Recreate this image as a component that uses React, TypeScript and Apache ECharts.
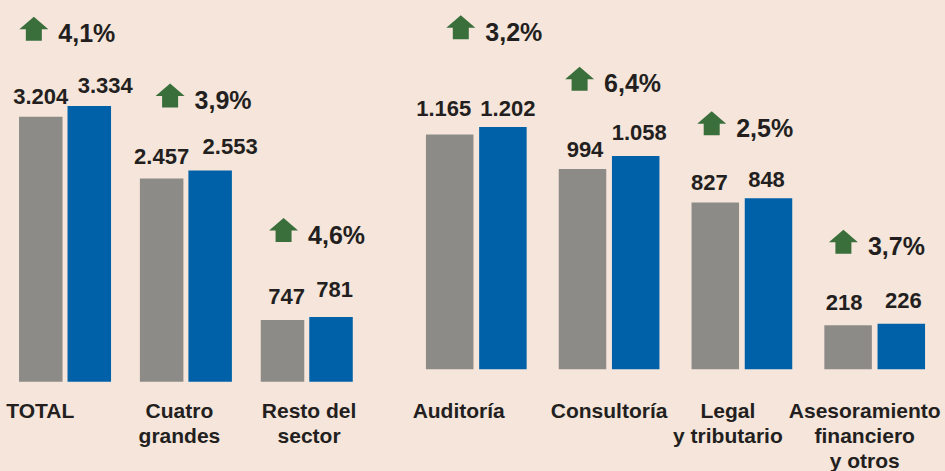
import React, { useEffect, useRef } from "react";
import * as echarts from "echarts";

// ---------- data ----------
const leftCategories = ["TOTAL", "Cuatro\ngrandes", "Resto del\nsector"];
const leftPrevious = [3204, 2457, 747];
const leftCurrent = [3334, 2553, 781];
const leftChange = [4.1, 3.9, 4.6];

const rightCategories = ["Auditoría", "Consultoría", "Legal\ny tributario", "Asesoramiento\nfinanciero\ny otros"];
const rightPrevious = [1165, 994, 827, 218];
const rightCurrent = [1202, 1058, 848, 226];
const rightChange = [3.2, 6.4, 2.5, 3.7];

// ---------- layout (pixel tweaks, not data) ----------
const LEFT_CAT_SHIFT = [-24.7, -6.5, 2.3];
const RIGHT_CAT_SHIFT = [-17.6, 0, -14, -10];
const LEFT_PREV_LABEL_OFF = [[0, 1.3], [0, -0.7], [4, -2]];
const LEFT_CURR_LABEL_OFF = [[16, 1], [20, -2.7], [3.5, -6]];
const RIGHT_PREV_LABEL_OFF = [[-6, -4.7], [2.5, 2], [-6, 1.7], [-4, -1]];
const RIGHT_CURR_LABEL_OFF = [[5, 2.7], [3.6, -2], [-2, 2.3], [2, -1.3]];
// arrow left offset from category centre, arrow bottom offset above current bar top
const LEFT_ARROW_OFF = [[-45.7, 65.3], [-30.3, 63], [-37.7, 75]];
const RIGHT_ARROW_OFF = [[-30, 87.7], [-44, 65.3], [-44.7, 63], [-45.8, 70]];

const BG = "#f5e5da";
const GREY = "#8c8b88";
const BLUE = "#0061a8";
const GREEN = "#3a6f3c";
const INK = "#231f20";
const FONT = "'Liberation Sans', Arial, sans-serif";

const fmtThousands = (v: number) => String(v).replace(/\B(?=(\d{3})+(?!\d))/g, ".");
const fmtPct = (v: number) => v.toFixed(1).replace(".", ",") + "%";

function catAxis(cats: string[], shifts: number[], gridIndex: number, margin: number) {
  const rich: Record<string, any> = {};
  shifts.forEach((s, i) => {
    rich["r" + i] = {
      fontFamily: FONT,
      fontWeight: "bold",
      fontSize: 21,
      lineHeight: 25,
      color: INK,
      padding: s < 0 ? [0, -2 * s, 0, 0] : [0, 0, 0, 2 * s],
    };
  });
  return {
    type: "category",
    gridIndex,
    data: cats,
    axisLine: { show: false },
    axisTick: { show: false },
    splitLine: { show: false },
    axisLabel: {
      interval: 0,
      margin,
      formatter: (value: string, idx: number) =>
        value
          .split("\n")
          .map((l) => `{r${idx}|${l}}`)
          .join("\n"),
      rich,
    },
  };
}

function barSeries(
  values: number[],
  offsets: number[][],
  color: string,
  axisIndex: number,
  width: number,
  gap: string,
  name: string
) {
  return {
    type: "bar",
    name,
    xAxisIndex: axisIndex,
    yAxisIndex: axisIndex,
    barWidth: width,
    barGap: gap,
    itemStyle: { color },
    label: {
      show: true,
      position: "top",
      distance: 10.5,
      fontFamily: FONT,
      fontWeight: "bold",
      fontSize: 22,
      color: INK,
      formatter: (p: any) => fmtThousands(p.value),
    },
    data: values.map((v, i) => ({ value: v, label: { offset: offsets[i] } })),
  };
}

function arrowSeries(current: number[], change: number[], offs: number[][], axisIndex: number) {
  return {
    type: "custom",
    xAxisIndex: axisIndex,
    yAxisIndex: axisIndex,
    silent: true,
    clip: false,
    encode: { x: 0, y: 1 },
    data: current.map((v, i) => [i, v, change[i]]),
    renderItem: (params: any, api: any) => {
      const i = api.value(0);
      const pt = api.coord([i, api.value(1)]);
      const off = offs[i];
      const x0 = pt[0] + off[0];
      const yb = pt[1] - off[1];
      const pts = [
        [x0, yb - 11.5],
        [x0 + 14.5, yb - 24],
        [x0 + 29, yb - 11.5],
        [x0 + 22.5, yb - 11.5],
        [x0 + 22.5, yb],
        [x0 + 6.5, yb],
        [x0 + 6.5, yb - 11.5],
      ];
      return {
        type: "group",
        children: [
          { type: "polygon", shape: { points: pts }, style: { fill: GREEN } },
          {
            type: "text",
            x: x0 + 39,
            y: yb + 1 - 8.6,
            style: {
              text: fmtPct(change[i]),
              fill: INK,
              font: `bold 25px ${FONT}`,
              textAlign: "left",
              textVerticalAlign: "middle",
              align: "left",
              verticalAlign: "middle",
            },
          },
        ],
      };
    },
  };
}

export default function App() {
  const ref = useRef<HTMLDivElement>(null);
  useEffect(() => {
    if (!ref.current) return;
    const chart = echarts.init(ref.current, null, { renderer: "svg" });
    chart.setOption({
      animation: false,
      backgroundColor: BG,
      textStyle: { fontFamily: FONT },
      grid: [
        { left: 4.6, width: 362.6, top: 50.9, bottom: 89.3, containLabel: false, outerBoundsMode: "none" },
        { left: 409.9, width: 531.2, top: 66.9, bottom: 101.7, containLabel: false, outerBoundsMode: "none" },
      ],
      xAxis: [
        catAxis(leftCategories, LEFT_CAT_SHIFT, 0, 16.4),
        catAxis(rightCategories, RIGHT_CAT_SHIFT, 1, 28.8),
      ],
      yAxis: [
        { type: "value", gridIndex: 0, min: 0, max: 4000, show: false, splitLine: { show: false } },
        { type: "value", gridIndex: 1, min: 0, max: 1500, show: false, splitLine: { show: false } },
      ],
      series: [
        barSeries(leftPrevious, LEFT_PREV_LABEL_OFF, GREY, 0, 43.5, "11.5%", "Anterior"),
        barSeries(leftCurrent, LEFT_CURR_LABEL_OFF, BLUE, 0, 43.5, "11.5%", "Actual"),
        barSeries(rightPrevious, RIGHT_PREV_LABEL_OFF, GREY, 1, 47.5, "12%", "Anterior"),
        barSeries(rightCurrent, RIGHT_CURR_LABEL_OFF, BLUE, 1, 47.5, "12%", "Actual"),
        arrowSeries(leftCurrent, leftChange, LEFT_ARROW_OFF, 0),
        arrowSeries(rightCurrent, rightChange, RIGHT_ARROW_OFF, 1),
      ],
    });
    return () => chart.dispose();
  }, []);
  return (
    <div
      ref={ref}
      style={{ position: "fixed", left: 0, top: 0, width: 945, height: 471 }}
    />
  );
}
